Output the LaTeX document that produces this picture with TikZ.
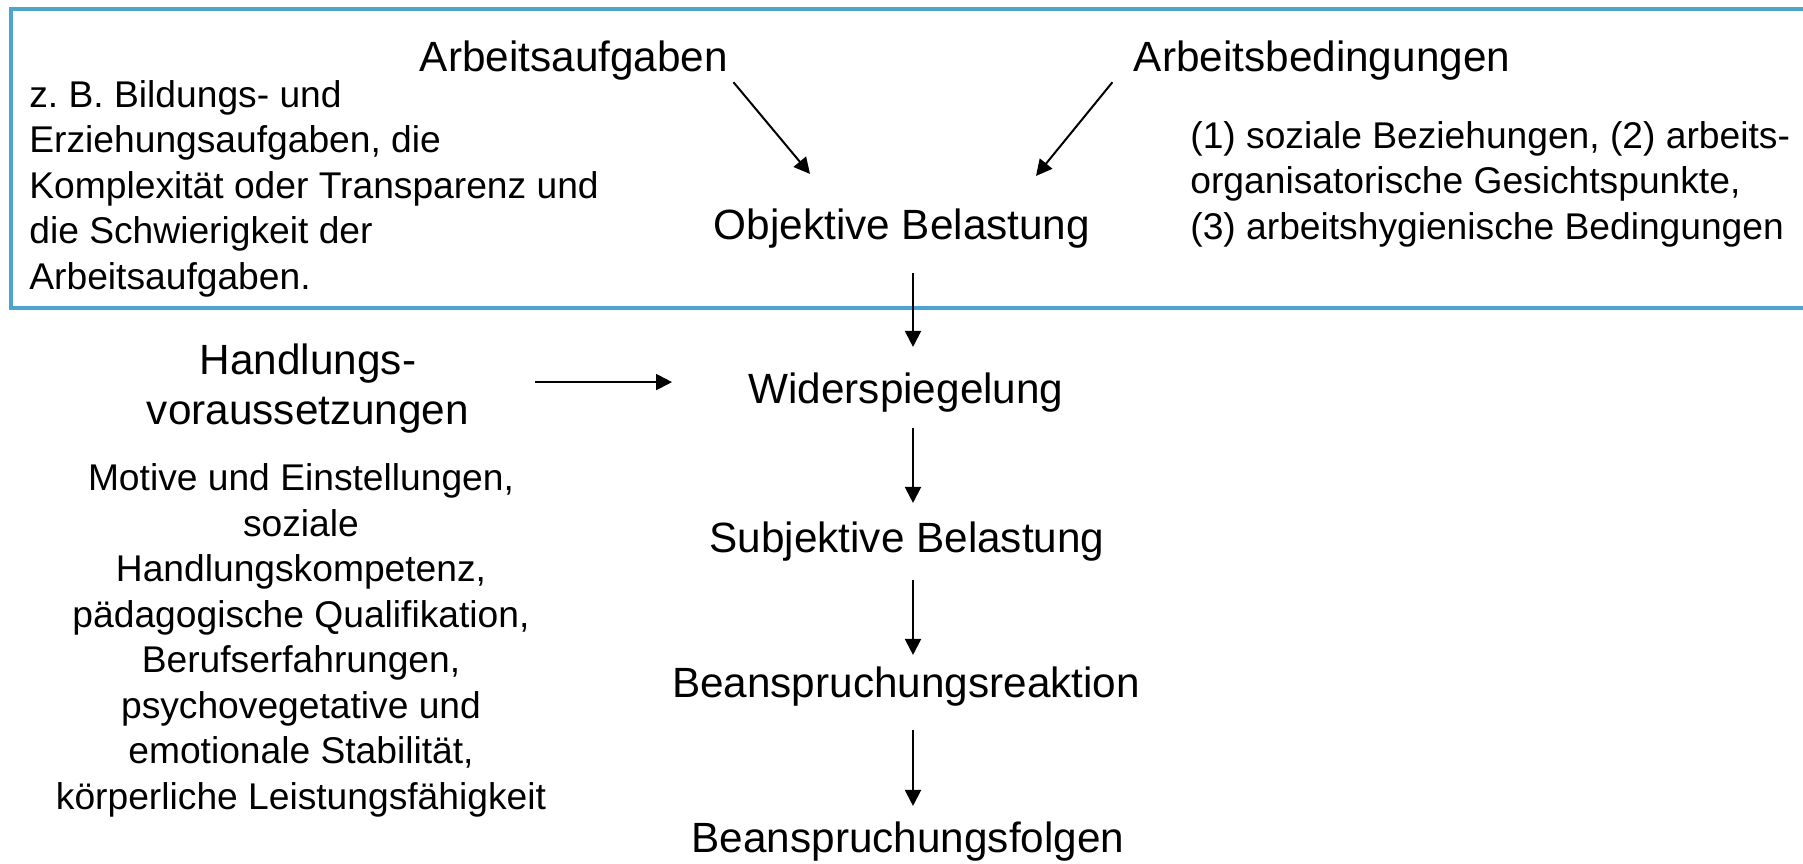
\documentclass[tikz,border=0pt]{standalone}
\usepackage{fontspec}
\setmainfont{Liberation Sans}
\usetikzlibrary{arrows.meta}
\definecolor{boxblue}{RGB}{75,165,205}
\tikzset{
  big/.style={inner sep=0pt, font=\fontsize{21.15}{25}\selectfont},
  small/.style={inner sep=0pt, font=\fontsize{18.6}{22.75}\selectfont},
  arr/.style={-{Triangle[length=8pt,width=8pt]}, line width=1pt, black},
  frame/.style={draw=boxblue, line width=2pt}
}
\begin{document}
\begin{tikzpicture}[x=0.5pt,y=-0.5pt]
\useasboundingbox (0,0) rectangle (1803,863);
\draw[frame] (11,9) rectangle (1830,308);

\node[big, anchor=base] (aufg) at (574,71) {Arbeitsaufgaben};
\node[big, anchor=base] (bed) at (1322,71) {Arbeitsbedingungen};
\node[big, anchor=base] (obj) at (902,239) {Objektive Belastung};
\node[small, anchor=base west, align=left] (bsp) at (29,289) {z.~B. Bildungs- und\\Erziehungsaufgaben, die\\Komplexität oder Transparenz und\\die Schwierigkeit der\\Arbeitsaufgaben.};
\node[small, anchor=base west, align=left] (bedtxt) at (1190,239) {(1) soziale Beziehungen, (2) arbeits-\\organisatorische Gesichtspunkte,\\(3) arbeitshygienische Bedingungen};

\node[big, anchor=base, align=center] (handl) at (308,424) {Handlungs-\\voraussetzungen};
\node[small, anchor=base, align=center] (mot) at (301,809) {Motive und Einstellungen,\\soziale\\Handlungskompetenz,\\pädagogische Qualifikation,\\Berufserfahrungen,\\psychovegetative und\\emotionale Stabilität,\\körperliche Leistungsfähigkeit};

\node[big, anchor=base] (wid) at (906,403) {Widerspiegelung};
\node[big, anchor=base] (sub) at (907,552) {Subjektive Belastung};
\node[big, anchor=base] (rea) at (906,697) {Beanspruchungsreaktion};
\node[big, anchor=base] (fol) at (908,852) {Beanspruchungsfolgen};

\coordinate (ax) at (913,0);
\draw[arr, shorten <=12.5pt, shorten >=12.5pt] (obj.south -| ax) -- (wid.north -| ax);
\draw[arr, shorten <=8pt, shorten >=9pt] (wid.south -| ax) -- (sub.north -| ax);
\draw[arr, shorten <=9.5pt, shorten >=5.5pt] (sub.south -| ax) -- (rea.north -| ax);
\draw[arr, shorten <=12pt, shorten >=7.5pt] (rea.south -| ax) -- (fol.north -| ax);

\draw[arr, shorten <=33pt, shorten >=38pt] ([yshift=3pt]handl.east) -- ([yshift=3pt]handl.east -| wid.west);

\draw[arr] ([shift={(5,2)}]aufg.south east) -- ([shift={(-92,-34)}]obj.north);
\draw[arr] ([shift={(-21,2)}]bed.south west) -- ([shift={(134,-32)}]obj.north);
\end{tikzpicture}
\end{document}
